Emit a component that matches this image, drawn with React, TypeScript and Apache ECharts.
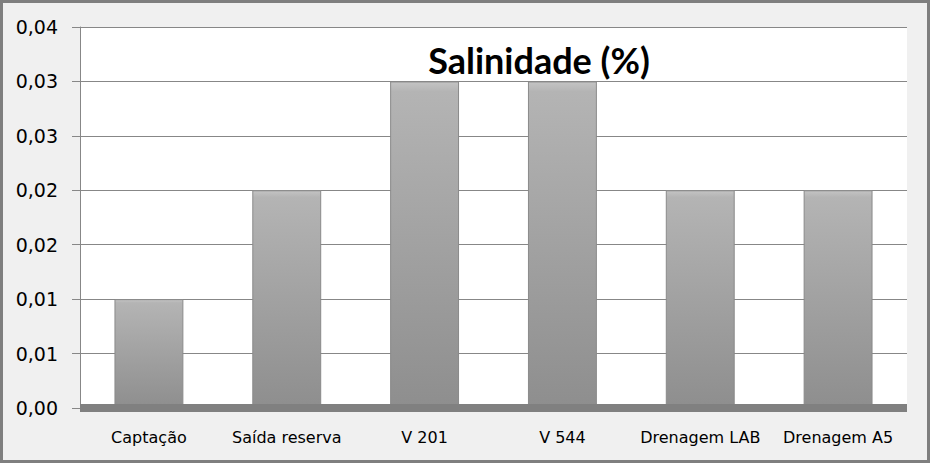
import React, { useEffect, useRef } from "react";
import * as echarts from "echarts";

const categories = ["Captação", "Saída reserva", "V 201", "V 544", "Drenagem LAB", "Drenagem A5"];
const salinidade = [0.01, 0.02, 0.03, 0.03, 0.02, 0.02];
const yTickLabels = ["0,00", "0,01", "0,01", "0,02", "0,02", "0,03", "0,03", "0,04"];
const titleText = "Salinidade (%)";

export default function App() {
  const ref = useRef<HTMLDivElement>(null);
  useEffect(() => {
    if (!ref.current) return;
    const chart = echarts.init(ref.current, null, { renderer: "svg" });
    chart.setOption({
      animation: false,
      backgroundColor: "#f0f0f0",
      title: {
        text: titleText,
        left: 534,
        top: 37,
        textAlign: "center",
        textStyle: { fontFamily: "Lato", fontWeight: "bold", fontSize: 36, color: "#000" },
      },
      graphic: [
        {
          type: "rect",
          shape: { x: 1.5, y: 1.5, width: 927, height: 460 },
          style: { fill: "none", stroke: "#7f7f7f", lineWidth: 3 },
          z: 100,
        },
      ],
      grid: {
        left: 80,
        right: 23,
        top: 27,
        bottom: 55,
        show: true,
        backgroundColor: "#ffffff",
        borderWidth: 0,
        containLabel: false,
      },
      xAxis: {
        type: "category",
        data: categories,
        z: 3,
        axisLine: { show: true, lineStyle: { color: "#808080", width: 8, cap: "butt" } },
        axisTick: { show: false },
        axisLabel: {
          margin: 21,
          fontFamily: "DejaVu Sans",
          fontSize: 16,
          color: "#000",
          interval: 0,
        },
      },
      yAxis: {
        type: "value",
        min: 0,
        max: 0.035,
        interval: 0.005,
        axisLine: { show: true, lineStyle: { color: "#878787", width: 1 } },
        axisTick: { show: true, length: 8, lineStyle: { color: "#878787" } },
        splitLine: { show: true, lineStyle: { color: "#878787", width: 1 } },
        axisLabel: {
          margin: 22,
          fontFamily: "DejaVu Sans",
          fontSize: 19,
          color: "#000",
          formatter: (_v: number, i: number) => yTickLabels[i] ?? "",
        },
      },
      series: [
        {
          type: "bar",
          data: salinidade,
          barWidth: "50%",
          itemStyle: {
            color: new echarts.graphic.LinearGradient(0, 0, 0, 1, [
              { offset: 0, color: "#c4c4c4" },
              { offset: 0.03, color: "#b4b4b4" },
              { offset: 1, color: "#8e8e8e" },
            ]),
            borderColor: "#8a8a8a",
            borderWidth: 1,
          },
        },
      ],
    });
    return () => chart.dispose();
  }, []);
  return (
    <div style={{ position: "fixed", left: 0, top: 0, width: 930, height: 463 }}>
      <div ref={ref} style={{ width: 930, height: 463 }} />
    </div>
  );
}
